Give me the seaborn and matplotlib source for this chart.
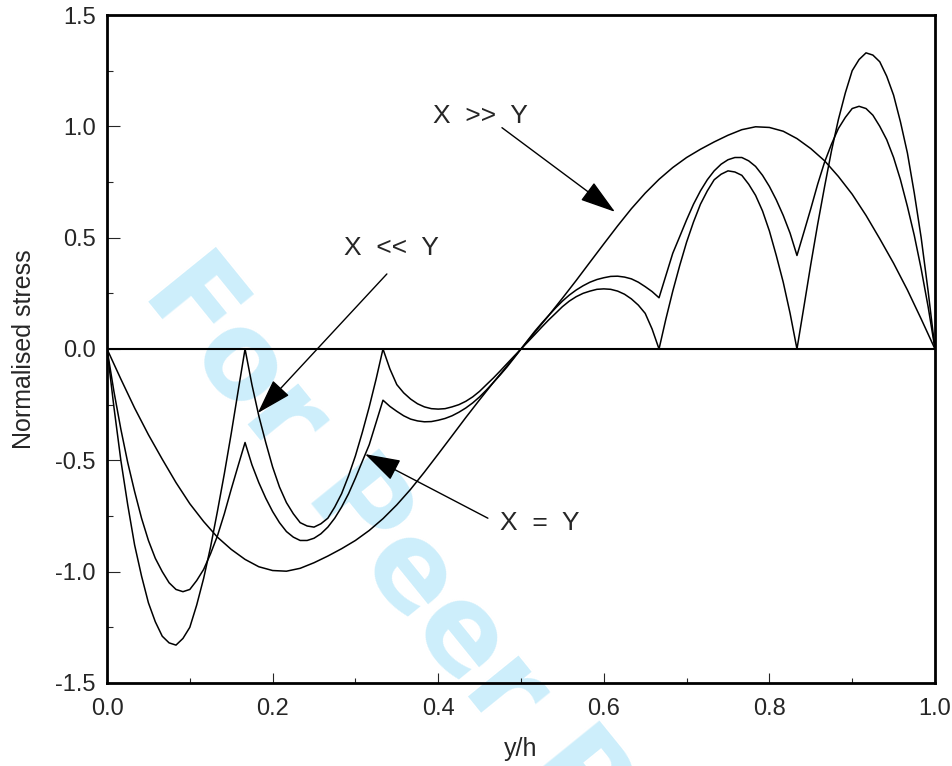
'''
Normalised stress through the thickness, three stiffness ratios
'''

#%% Modulos
import numpy as np
import matplotlib
matplotlib.use("Agg")
import matplotlib.pyplot as plt
import seaborn as sb

#%% Dados lidos do grafico
# grade fina (curvas com bicos nas interfaces)
y_h120 = [0.0, 0.0083, 0.0167, 0.025, 0.0333, 0.0417, 0.05, 0.0583, 0.0667, 0.075,
          0.0833, 0.0917, 0.1, 0.1083, 0.1167, 0.125, 0.1333, 0.1417, 0.15, 0.1583,
          0.1667, 0.175, 0.1833, 0.1917, 0.2, 0.2083, 0.2167, 0.225, 0.2333, 0.2417,
          0.25, 0.2583, 0.2667, 0.275, 0.2833, 0.2917, 0.3, 0.3083, 0.3167, 0.325,
          0.3333, 0.3417, 0.35, 0.3583, 0.3667, 0.375, 0.3833, 0.3917, 0.4, 0.4083,
          0.4167, 0.425, 0.4333, 0.4417, 0.45, 0.4583, 0.4667, 0.475, 0.4833, 0.4917,
          0.5, 0.5083, 0.5167, 0.525, 0.5333, 0.5417, 0.55, 0.5583, 0.5667, 0.575,
          0.5833, 0.5917, 0.6, 0.6083, 0.6167, 0.625, 0.6333, 0.6417, 0.65, 0.6583,
          0.6667, 0.675, 0.6833, 0.6917, 0.7, 0.7083, 0.7167, 0.725, 0.7333, 0.7417,
          0.75, 0.7583, 0.7667, 0.775, 0.7833, 0.7917, 0.8, 0.8083, 0.8167, 0.825,
          0.8333, 0.8417, 0.85, 0.8583, 0.8667, 0.875, 0.8833, 0.8917, 0.9, 0.9083,
          0.9167, 0.925, 0.9333, 0.9417, 0.95, 0.9583, 0.9667, 0.975, 0.9833, 0.9917,
          1.0]

# grade grossa (curva suave X >> Y)
y_h60 = [0.0, 0.0167, 0.0333, 0.05, 0.0667, 0.0833, 0.1, 0.1167, 0.1333, 0.15,
         0.1667, 0.1833, 0.2, 0.2167, 0.2333, 0.25, 0.2667, 0.2833, 0.3, 0.3167,
         0.3333, 0.35, 0.3667, 0.3833, 0.4, 0.4167, 0.4333, 0.45, 0.4667, 0.4833,
         0.5, 0.5167, 0.5333, 0.55, 0.5667, 0.5833, 0.6, 0.6167, 0.6333, 0.65,
         0.6667, 0.6833, 0.7, 0.7167, 0.7333, 0.75, 0.7667, 0.7833, 0.8, 0.8167,
         0.8333, 0.85, 0.8667, 0.8833, 0.9, 0.9167, 0.9333, 0.95, 0.9667, 0.9833,
         1.0]

# X << Y
stress_xlly = [0, -0.26, -0.50, -0.70, -0.88, -1.02, -1.14, -1.225, -1.29, -1.32,
               -1.33, -1.30, -1.25, -1.15, -1.03, -0.89, -0.73, -0.56, -0.38, -0.19, 0,
               -0.16, -0.30, -0.42, -0.53, -0.62, -0.69, -0.74, -0.78, -0.795, -0.80,
               -0.785, -0.76, -0.71, -0.65, -0.57, -0.48, -0.375, -0.26, -0.135, 0,
               -0.09, -0.16, -0.197, -0.225, -0.246, -0.26, -0.268, -0.27, -0.268, -0.26,
               -0.25, -0.235, -0.215, -0.19, -0.16, -0.13, -0.098, -0.065, -0.032, 0,
               0.032, 0.065, 0.098, 0.13, 0.16, 0.19, 0.215, 0.235, 0.25, 0.26,
               0.268, 0.27, 0.268, 0.26, 0.246, 0.225, 0.197, 0.16, 0.09, 0,
               0.135, 0.26, 0.375, 0.48, 0.57, 0.65, 0.71, 0.76, 0.785, 0.80,
               0.795, 0.78, 0.74, 0.69, 0.62, 0.53, 0.42, 0.30, 0.16, 0,
               0.19, 0.38, 0.56, 0.73, 0.89, 1.03, 1.15, 1.25, 1.30, 1.33,
               1.32, 1.29, 1.225, 1.14, 1.02, 0.88, 0.70, 0.50, 0.26, 0]

# X = Y
stress_xey = [0, -0.19, -0.36, -0.51, -0.64, -0.76, -0.86, -0.94, -1.00, -1.05,
              -1.08, -1.09, -1.08, -1.04, -0.99, -0.92, -0.84, -0.74, -0.63, -0.525, -0.42,
              -0.52, -0.60, -0.67, -0.73, -0.78, -0.82, -0.845, -0.86, -0.86, -0.85,
              -0.83, -0.80, -0.76, -0.71, -0.65, -0.58, -0.505, -0.43, -0.33, -0.23,
              -0.258, -0.28, -0.30, -0.315, -0.323, -0.327, -0.326, -0.32, -0.312, -0.30,
              -0.284, -0.265, -0.242, -0.215, -0.184, -0.15, -0.116, -0.08, -0.04, 0,
              0.04, 0.08, 0.116, 0.15, 0.184, 0.215, 0.242, 0.265, 0.284, 0.30,
              0.312, 0.32, 0.326, 0.327, 0.323, 0.315, 0.30, 0.28, 0.258, 0.23,
              0.33, 0.43, 0.505, 0.58, 0.65, 0.71, 0.76, 0.80, 0.83, 0.85,
              0.86, 0.86, 0.845, 0.82, 0.78, 0.73, 0.67, 0.60, 0.52, 0.42,
              0.525, 0.63, 0.74, 0.84, 0.92, 0.99, 1.04, 1.08, 1.09, 1.08,
              1.05, 1.00, 0.94, 0.86, 0.76, 0.64, 0.51, 0.36, 0.19, 0]

# X >> Y
stress_xggy = [0, -0.135, -0.265, -0.385, -0.495, -0.60, -0.695, -0.775, -0.845, -0.90,
               -0.945, -0.978, -0.995, -0.998, -0.985, -0.96, -0.93, -0.897, -0.86, -0.815,
               -0.762, -0.70, -0.63, -0.553, -0.472, -0.39, -0.308, -0.228, -0.15, -0.075,
               0, 0.075, 0.15, 0.228, 0.308, 0.39, 0.472, 0.553, 0.63, 0.70,
               0.762, 0.815, 0.86, 0.897, 0.93, 0.96, 0.985, 0.998, 0.995, 0.978,
               0.945, 0.90, 0.845, 0.775, 0.695, 0.60, 0.495, 0.385, 0.265, 0.135, 0]

xticks = [0.0, 0.2, 0.4, 0.6, 0.8, 1.0]
yticks = [-1.5, -1.0, -0.5, 0.0, 0.5, 1.0, 1.5]

#%% Estilo
sb.set_style("white")
plt.rcParams['font.family'] = ['Liberation Sans Narrow', 'Liberation Sans', 'DejaVu Sans']
plt.rcParams['axes.unicode_minus'] = False

fig = plt.figure(figsize=(9.53, 7.66), dpi=100)
ax = fig.add_axes([0.1123, 0.1084, 0.8688, 0.872])
ax.patch.set_alpha(0)

# marca d'agua
fig.text(0.148, 0.6175, "For Peer Review", rotation=-51, rotation_mode='anchor',
         ha='left', va='baseline', fontsize=86, fontweight='bold',
         color='#cdeefb', family='DejaVu Sans', zorder=-5)

#%% Curvas
sb.lineplot(x=y_h120, y=stress_xlly, color='black', linewidth=1.1, sort=False,
            estimator=None, ax=ax)
sb.lineplot(x=y_h120, y=stress_xey, color='black', linewidth=1.1, sort=False,
            estimator=None, ax=ax)
sb.lineplot(x=y_h60, y=stress_xggy, color='black', linewidth=1.1, sort=False,
            estimator=None, ax=ax)

ax.axhline(0, color='black', linewidth=1.5)

#%% Eixos
ax.set_xlim(0, 1)
ax.set_ylim(-1.5, 1.5)
ax.set_xticks(xticks)
ax.set_yticks(yticks)
ax.set_xticklabels([f"{v:.1f}" for v in xticks])
ax.set_yticklabels([f"{v:.1f}" for v in yticks])
ax.set_xticks(np.arange(0.1, 1.0, 0.2), minor=True)
ax.set_yticks(np.arange(-1.25, 1.5, 0.5), minor=True)
ax.tick_params(axis='x', which='major', direction='in', length=7, width=0.8,
               labelsize=17, pad=11, bottom=True)
ax.tick_params(axis='x', which='minor', direction='in', length=3.5, width=0.8, bottom=True)
ax.tick_params(axis='y', which='major', direction='in', length=9, width=0.8,
               labelsize=17, pad=8, left=True)
ax.tick_params(axis='y', which='minor', direction='in', length=4.5, width=0.8, left=True)
for sp in ax.spines.values():
    sp.set_linewidth(2)
    sp.set_color('black')

ax.set_xlabel("y/h", fontsize=18, labelpad=12)
ax.set_ylabel("Normalised stress", fontsize=18, labelpad=14)

#%% Anotacoes
seta = dict(arrowstyle='-|>,head_length=1.6,head_width=0.5', color='black',
            lw=1, mutation_scale=14, shrinkA=0, shrinkB=0)
ax.text(0.4505, 1.048, "X  >>  Y", fontsize=19, ha='center', va='center')
ax.annotate("", xy=(0.6135, 0.616), xytext=(0.477, 0.994), arrowprops=seta)
ax.text(0.343, 0.454, "X  <<  Y", fontsize=19, ha='center', va='center')
ax.annotate("", xy=(0.182, -0.288), xytext=(0.338, 0.337), arrowprops=seta)
ax.text(0.523, -0.783, "X  =  Y", fontsize=19, ha='center', va='center')
ax.annotate("", xy=(0.3116, -0.472), xytext=(0.460, -0.76), arrowprops=seta)

fig.savefig("out.png", dpi=100)
